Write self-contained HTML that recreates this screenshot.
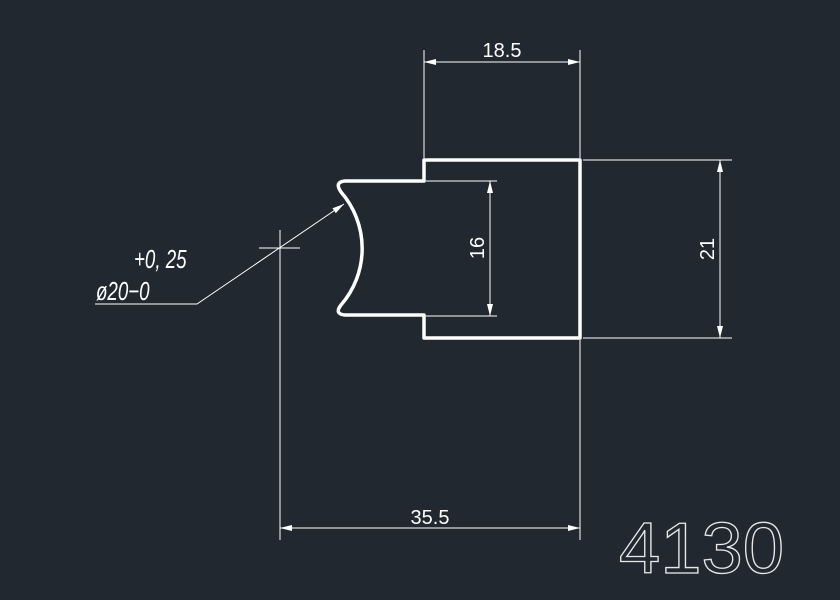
<!DOCTYPE html>
<html><head><meta charset="utf-8"><style>body{margin:0;background:#212830}svg{display:block}</style></head>
<body>
<svg width="840" height="600" viewBox="0 0 840 600" xmlns="http://www.w3.org/2000/svg">
<rect width="840" height="600" fill="#212830"/>
<defs><marker id="a" viewBox="0 0 12 6" refX="12" refY="3" markerWidth="12" markerHeight="6" orient="auto-start-reverse" markerUnits="userSpaceOnUse"><path d="M0,0 L12,3 L0,6 Z" fill="#fff"/></marker></defs>
<path d="M424,181 V160 H580 V338 H424 V315 H345 Q334,314 341,305 A86 86 0 0 0 341,192 Q334,182 345,181 Z" fill="none" stroke="#fff" stroke-width="3.5" stroke-linejoin="round"/>
<g stroke="#fff" stroke-width="1" fill="none">
<line x1="424" y1="50" x2="424" y2="158"/><line x1="580" y1="50" x2="580" y2="158"/>
<line x1="424" y1="62" x2="580" y2="62" marker-start="url(#a)" marker-end="url(#a)"/>
<line x1="583" y1="160" x2="732" y2="160"/><line x1="583" y1="338" x2="732" y2="338"/>
<line x1="720" y1="160" x2="720" y2="338" marker-start="url(#a)" marker-end="url(#a)"/>
<line x1="426" y1="181" x2="497" y2="181"/><line x1="426" y1="316" x2="497" y2="316"/>
<line x1="490" y1="181" x2="490" y2="316" marker-start="url(#a)" marker-end="url(#a)"/>
<line x1="280" y1="230" x2="280" y2="540"/><line x1="580" y1="340" x2="580" y2="540"/>
<line x1="280" y1="528" x2="580" y2="528" marker-start="url(#a)" marker-end="url(#a)"/>
<line x1="259" y1="248" x2="300" y2="248"/>
<polyline points="95,304 197,304 344,204" marker-end="url(#a)"/>
</g>
<g fill="#fff" font-family="Liberation Sans, sans-serif">
<text x="502" y="57" font-size="20" text-anchor="middle">18.5</text>
<text x="430" y="524" font-size="20" text-anchor="middle">35.5</text>
<text transform="translate(484,248) rotate(-90)" font-size="20" text-anchor="middle">16</text>
<text transform="translate(714,249) rotate(-90)" font-size="20" text-anchor="middle">21</text>
<text font-size="26" font-style="italic" transform="translate(134,268) scale(0.72,1)">+0, 25</text>
<text font-size="26" font-style="italic" transform="translate(96,300) scale(0.72,1)">ø20−0</text>
<text x="619" y="573" font-size="72" fill="none" stroke="#e8e8e8" stroke-width="1.3" textLength="165" lengthAdjust="spacingAndGlyphs">4130</text>
</g>
</svg>
</body></html>
